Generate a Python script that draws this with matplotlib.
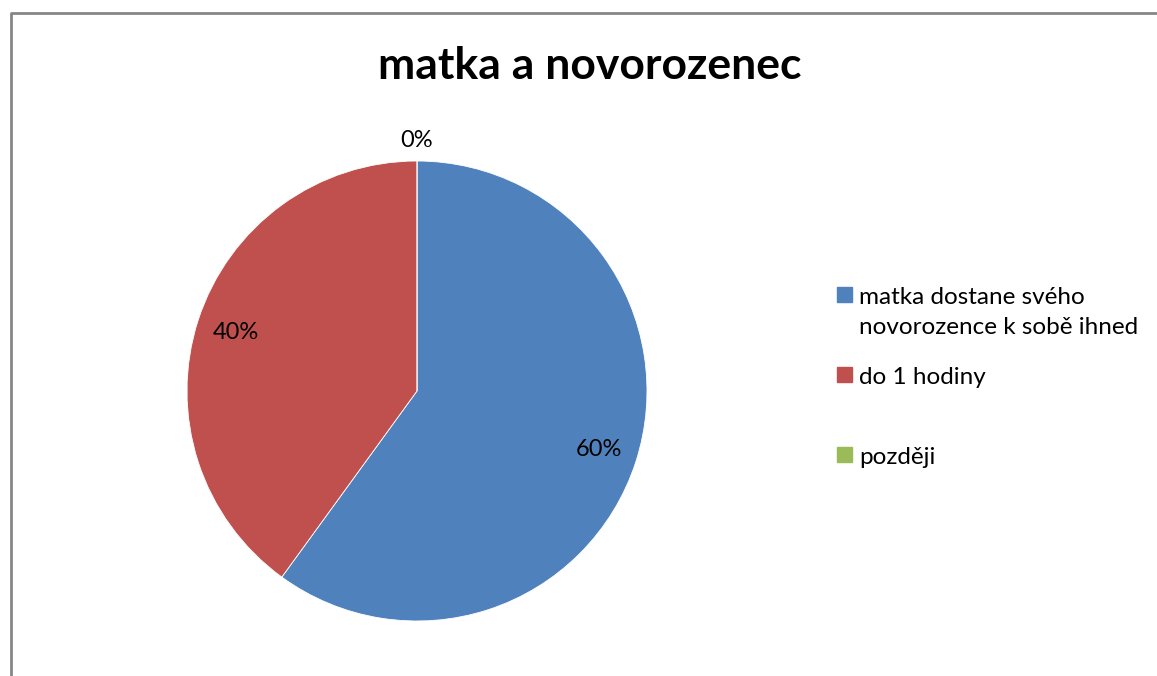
import matplotlib
matplotlib.use("Agg")
import matplotlib.pyplot as plt
from matplotlib.lines import Line2D
from matplotlib.patches import Rectangle

categories = ["matka dostane svého\nnovorozence k sobě ihned", "do 1 hodiny", "později"]
values = [60, 40, 0]
colors = ["#4F81BD", "#C0504D", "#9BBB59"]
title = "matka a novorozenec"

W, H = 1157, 676
fig = plt.figure(figsize=(W / 100, H / 100), dpi=100)
plt.rcParams["font.family"] = ["Lato", "DejaVu Sans"]

# pie axes: center (417, 391), radius 230 px
cx, cy, r = 417, 391, 230
ax = fig.add_axes([(cx - r) / W, 1 - (cy + r) / H, 2 * r / W, 2 * r / H])
wedges, _, autotexts = ax.pie(values, colors=colors, startangle=90, counterclock=False,
                              autopct=lambda p: f"{p:.0f}%", pctdistance=0.83,
                              wedgeprops=dict(linewidth=0.6, edgecolor="white"),
                              textprops=dict(fontsize=17))
ax.set_xlim(-1, 1)
ax.set_ylim(-1, 1)
ax.set_aspect("equal")
for v, t in zip(values, autotexts):
    if v == 0:
        x, y = t.get_position()
        t.set_position((x * 1.087 / 0.83, y * 1.087 / 0.83))
    t.set_clip_on(False)

fig.text(590 / W, 1 - 66 / H, title, ha="center", va="center", fontsize=32, fontweight="bold")

# legend, drawn by hand to keep Excel's spacing
for i, (lab, c) in enumerate(zip(categories, colors)):
    ytop = 297 + 80 * i
    fig.patches.append(Rectangle((837 / W, 1 - (ytop + 5) / H), 15 / W, 15 / H,
                                 color=c, transform=fig.transFigure, figure=fig))
    fig.text(859 / W, 1 - (ytop - 10) / H, lab, ha="left", va="top", fontsize=17.5,
             linespacing=1.55)

# chart border (left and top visible)
fig.lines.append(Line2D([10.5 / W, 10.5 / W, 1], [0, 1 - 13 / H, 1 - 13 / H],
                        color="#868686", lw=2, transform=fig.transFigure))

fig.savefig("out.png", dpi=100)
